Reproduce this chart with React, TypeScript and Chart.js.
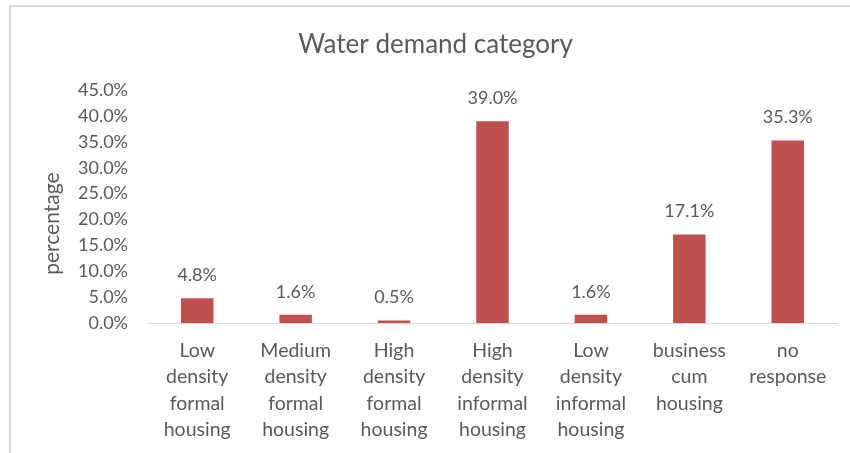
import React, { useEffect, useRef } from "react";
import { Chart, registerables } from "chart.js";

Chart.register(...registerables);

const categories: string[][] = [
  ["Low", "density", "formal", "housing"],
  ["Medium", "density", "formal", "housing"],
  ["High", "density", "formal", "housing"],
  ["High", "density", "informal", "housing"],
  ["Low", "density", "informal", "housing"],
  ["business", "cum", "housing"],
  ["no", "response"],
];
const values: number[] = [4.8, 1.6, 0.5, 39.0, 1.6, 17.1, 35.3];
const chartTitle = "Water demand category";
const yAxisTitle = "percentage";
const yMax = 45;
const yStep = 5;

const FONT = "Lato, 'Open Sans', sans-serif";
const TEXT = "#595959";

export default function App() {
  const ref = useRef<HTMLCanvasElement | null>(null);

  useEffect(() => {
    if (!ref.current) return;
    const labelPlugin = {
      id: "barLabels",
      afterDatasetsDraw(chart: any) {
        const ctx = chart.ctx;
        ctx.save();
        ctx.font = `18px ${FONT}`;
        ctx.fillStyle = TEXT;
        ctx.textAlign = "center";
        ctx.textBaseline = "middle";
        const meta = chart.getDatasetMeta(0);
        meta.data.forEach((bar: any, i: number) => {
          ctx.fillText(values[i].toFixed(1) + "%", bar.x, bar.y - 23);
        });
        ctx.restore();
      },
      afterDraw(chart: any) {
        const ctx = chart.ctx;
        const area = chart.chartArea;
        ctx.save();
        ctx.font = `21px ${FONT}`;
        ctx.fillStyle = TEXT;
        ctx.textAlign = "center";
        ctx.textBaseline = "middle";
        ctx.translate(52, (area.top + area.bottom) / 2 + 17);
        ctx.rotate(-Math.PI / 2);
        ctx.fillText(yAxisTitle, 0, 0);
        ctx.restore();
      },
    };

    const chart = new Chart(ref.current, {
      type: "bar",
      data: {
        labels: categories,
        datasets: [
          {
            data: values,
            backgroundColor: "#C0504D",
            categoryPercentage: 1,
            barPercentage: 0.33,
          },
        ],
      },
      options: {
        responsive: false,
        animation: false,
        layout: { padding: { left: 34, right: 13, top: 0, bottom: 0 } },
        plugins: {
          legend: { display: false },
          tooltip: { enabled: false },
          title: {
            display: true,
            text: chartTitle,
            color: TEXT,
            font: { family: FONT, size: 26, weight: "normal" },
            padding: { top: 29, bottom: 30 },
          },
        },
        scales: {
          x: {
            grid: { display: false, drawTicks: false },
            border: { display: true, color: "#d9d9d9", width: 1 },
            ticks: {
              color: TEXT,
              font: { family: FONT, size: 19.5, lineHeight: 1.36 },
              padding: 14,
              maxRotation: 0,
              autoSkip: false,
            },
            afterFit(scale: any) {
              scale.height = 130;
            },
          },
          y: {
            min: 0,
            max: yMax,
            grid: { display: false, drawTicks: false },
            border: { display: false },
            ticks: {
              stepSize: yStep,
              color: TEXT,
              font: { family: FONT, size: 18 },
              padding: 20,
              callback: (v: any) => Number(v).toFixed(1) + "%",
            },
            afterFit(scale: any) {
              scale.width = 114;
            },
          },
        },
      },
      plugins: [labelPlugin],
    });
    return () => chart.destroy();
  }, []);

  return (
    <div style={{ position: "absolute", left: 0, top: 0, width: 850, height: 453, background: "#fff", overflow: "hidden" }}>
      <div
        style={{
          position: "absolute",
          left: 9,
          top: 5,
          width: 900,
          height: 500,
          borderTop: "2px solid #d9d9d9",
          borderLeft: "2px solid #d9d9d9",
          boxSizing: "border-box",
        }}
      />
      <canvas ref={ref} width={850} height={453} style={{ position: "absolute", left: 0, top: 0 }} />
    </div>
  );
}
